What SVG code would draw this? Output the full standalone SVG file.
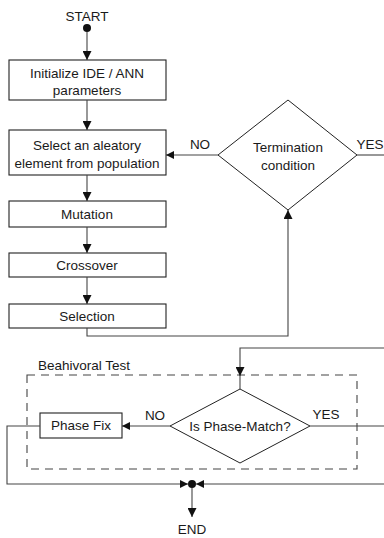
<svg xmlns="http://www.w3.org/2000/svg" width="384" height="538" viewBox="0 0 384 538">
<style>
.box{fill:#fff;stroke:#222;stroke-width:1.1}
.dia{fill:#fff;stroke:#222;stroke-width:1}
.ln{fill:none;stroke:#444;stroke-width:1.1}
.t{font-family:"Liberation Sans",Arial,sans-serif;font-size:13.5px;fill:#1a1a1a;text-anchor:middle}
.dash{fill:none;stroke:#444;stroke-width:1.1;stroke-dasharray:8,6}
</style>
<defs>
<marker id="ah" viewBox="0 0 10 10" refX="10" refY="5" markerWidth="9" markerHeight="9" markerUnits="userSpaceOnUse" orient="auto">
<path d="M0,0 L10,5 L0,10 Z" fill="#111"/>
</marker>
<marker id="ahl" viewBox="0 0 10 10" refX="10" refY="5" markerWidth="12" markerHeight="8" markerUnits="userSpaceOnUse" orient="auto">
<path d="M0,0 L10,5 L0,10 Z" fill="#111"/>
</marker>
</defs>
<rect width="384" height="538" fill="#fff"/>

<g id="start">
<text class="t" x="87" y="21">START</text>
<circle cx="87" cy="28" r="4" fill="#111"/>
</g>

<g id="init">
<rect class="box" x="9" y="60" width="157" height="40"/>
<text class="t" x="87" y="78">Initialize IDE / ANN</text>
<text class="t" x="87" y="95">parameters</text>
</g>

<g id="select">
<rect class="box" x="9" y="130" width="157" height="45"/>
<text class="t" x="87" y="150">Select an aleatory</text>
<text class="t" x="87" y="168">element from population</text>
</g>

<g id="mutation">
<rect class="box" x="9" y="201" width="157" height="26"/>
<text class="t" x="87" y="219">Mutation</text>
</g>

<g id="crossover">
<rect class="box" x="9" y="253" width="157" height="24"/>
<text class="t" x="87" y="270">Crossover</text>
</g>

<g id="selection">
<rect class="box" x="9" y="304" width="157" height="24"/>
<text class="t" x="87" y="321">Selection</text>
</g>

<g id="termination">
<polygon class="dia" points="288,100 357,155 288,210 218,155"/>
<text class="t" x="288" y="152">Termination</text>
<text class="t" x="288" y="170">condition</text>
</g>

<g id="behavioral">
<rect class="dash" x="27" y="375" width="330" height="94"/>
<text class="t" x="38" y="370" style="text-anchor:start">Beahivoral Test</text>
</g>

<g id="phasematch">
<polygon class="dia" points="240,389 310,426 240,463 170,426"/>
<text class="t" x="240" y="431">Is Phase-Match?</text>
</g>

<g id="phasefix">
<rect class="box" x="40" y="413" width="82" height="25"/>
<text class="t" x="81" y="430">Phase Fix</text>
</g>

<g id="end">
<circle cx="192" cy="484" r="4" fill="#111"/>
<text class="t" x="192" y="534">END</text>
</g>

<g id="connectors">
<line class="ln" x1="87" y1="32" x2="87" y2="60" marker-end="url(#ah)"/>
<line class="ln" x1="87" y1="100" x2="87" y2="130" marker-end="url(#ah)"/>
<line class="ln" x1="87" y1="175" x2="87" y2="201" marker-end="url(#ah)"/>
<line class="ln" x1="87" y1="227" x2="87" y2="253" marker-end="url(#ah)"/>
<line class="ln" x1="87" y1="277" x2="87" y2="304" marker-end="url(#ah)"/>
<polyline class="ln" points="87,328 87,336 288,336 288,210" marker-end="url(#ah)"/>
<line class="ln" x1="218" y1="155" x2="166" y2="155" marker-end="url(#ahl)"/>
<text class="t" x="200" y="149">NO</text>
<line class="ln" x1="357" y1="155" x2="384" y2="155"/>
<text class="t" x="370" y="149">YES</text>
<polyline class="ln" points="384,348 240,348 240,376" marker-end="url(#ah)"/>
<line class="ln" x1="240" y1="375" x2="240" y2="389"/>
<line class="ln" x1="170" y1="426" x2="122" y2="426" marker-end="url(#ahl)"/>
<text class="t" x="155" y="420">NO</text>
<line class="ln" x1="310" y1="426" x2="384" y2="426"/>
<text class="t" x="326" y="419">YES</text>
<polyline class="ln" points="40,426 7,426 7,484 188,484" marker-end="url(#ahl)"/>
<line class="ln" x1="384" y1="484" x2="196" y2="484" marker-end="url(#ahl)"/>
<line class="ln" x1="192" y1="488" x2="192" y2="517" marker-end="url(#ah)"/>
</g>
</svg>
